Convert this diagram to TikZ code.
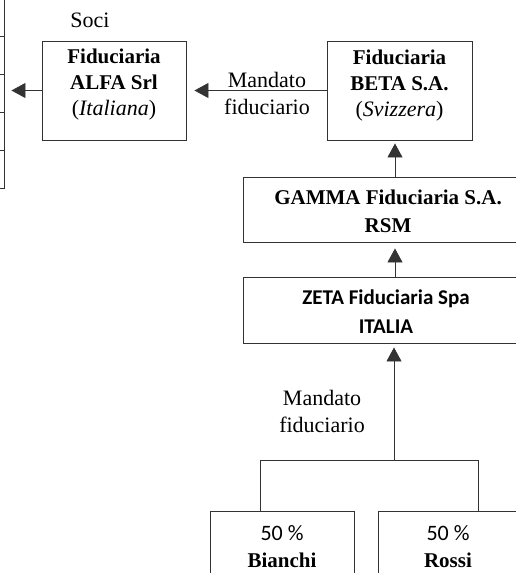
\documentclass[tikz,border=0pt]{standalone}
\usepackage{fontspec}
\setmainfont{Liberation Serif}
\newfontfamily\carlito{Carlito}
\usetikzlibrary{arrows.meta}
\definecolor{linegray}{HTML}{333333}
\newcommand{\pct}{{\carlito\fontsize{22}{27}\selectfont 50 \%}}
\begin{document}
\begin{tikzpicture}[x=1pt,y=-1pt,
  box/.style={draw=linegray, line width=0.9pt, inner sep=0pt},
  txt/.style={align=center, inner sep=0pt, font=\fontsize{21}{26}\selectfont},
  regtxt/.style={align=center, inner sep=0pt, font=\fontsize{22}{27}\selectfont},
  sanstxt/.style={align=center, inner sep=0pt, font=\carlito\fontsize{21}{29}\selectfont},
  conn/.style={draw=linegray, line width=0.9pt},
  arr/.style={conn, -{Triangle[length=14pt,width=15pt]}}]
\useasboundingbox (0,0) rectangle (516,573);
\clip (0,0) rectangle (516,573);
% table of Soci (cut off at the left)
\foreach \i/\c in {1/17,2/55,3/93,4/131,5/169}
  \node[box, minimum width=200pt, minimum height=38pt] (cell\i) at (-96,\c) {};
\node[regtxt] (soci) at (90,20) {Soci};
% boxes
\node[box, minimum width=144pt, minimum height=99pt] (alfa) at (114,90.5) {};
\node[txt] (alfatxt) at (114,85) {\textbf{Fiduciaria}\\\textbf{ALFA Srl}\\{\fontsize{22}{26}\selectfont(\textit{Italiana})}};
\node[box, minimum width=145pt, minimum height=99pt] (beta) at (399.5,90.5) {};
\node[txt] (betatxt) at (399.5,86) {\textbf{Fiduciaria}\\\textbf{BETA S.A.}\\{\fontsize{22}{26}\selectfont(\textit{Svizzera})}};
\node[box, minimum width=294pt, minimum height=65pt] (gamma) at (390,209.5) {};
\node[txt, font=\fontsize{21}{28}\selectfont] (gammatxt) at (388,211) {\textbf{GAMMA Fiduciaria S.A.}\\\textbf{RSM}};
\node[box, minimum width=294pt, minimum height=66pt] (zeta) at (390,310) {};
\node[sanstxt] (zetatxt) at (386,312) {\textbf{ZETA Fiduciaria Spa}\\\textbf{ITALIA}};
\node[box, minimum width=144pt, minimum height=100pt] (bianchi) at (282,561) {};
\node[txt, font=\fontsize{21}{27}\selectfont] (bianchitxt) at (282,546.5) {\pct\\\textbf{Bianchi}};
\node[box, minimum width=144pt, minimum height=100pt] (rossi) at (450,561) {};
\node[txt, font=\fontsize{21}{27}\selectfont] (rossitxt) at (448,546.5) {\pct\\\textbf{Rossi}};
% labels
\node[regtxt] (mand1) at (267,93) {Mandato\\fiduciario};
\node[regtxt, anchor=east] (mand2) at (365,411) {Mandato\\fiduciario};
% connectors
\coordinate (axis) at (395,0);
\coordinate (junc) at (394,460);
\coordinate (bl) at (260,460);
\coordinate (br) at (478,460);
\draw[arr, shorten >=7pt] (alfa.west) -- (alfa.west -| cell3.east);
\draw[arr, shorten >=8pt] (beta.west) -- (alfa.east);
\draw[arr, shorten >=3pt] (gamma.north -| axis) -- (beta.south -| axis);
\draw[arr, shorten >=6pt] (zeta.north -| axis) -- (gamma.south -| axis);
\draw[arr, shorten >=4pt] (junc) -- (zeta.south -| junc);
\draw[conn] (bianchi.north -| bl) -- (bl) -- (br) -- (rossi.north -| br);
\end{tikzpicture}
\end{document}
